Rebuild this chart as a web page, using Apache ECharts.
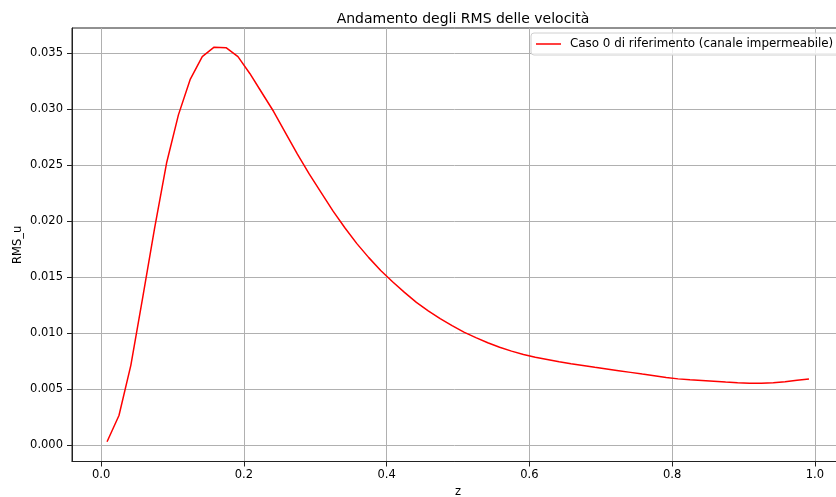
<!DOCTYPE html>
<html>
<head>
<meta charset="utf-8">
<script src="https://cdn.jsdelivr.net/npm/echarts@6/dist/echarts.min.js"></script>
<style>
html,body{margin:0;padding:0;background:#fff;}
#chart{width:836px;height:497px;}
</style>
</head>
<body>
<div id="chart"></div>
<script>
// z positions: 60 cell centres (i+0.5)/60
const zValues = [
  0.0083,0.0250,0.0417,0.0583,0.0750,0.0917,0.1083,0.1250,0.1417,0.1583,
  0.1750,0.1917,0.2083,0.2250,0.2417,0.2583,0.2750,0.2917,0.3083,0.3250,
  0.3417,0.3583,0.3750,0.3917,0.4083,0.4250,0.4417,0.4583,0.4750,0.4917,
  0.5083,0.5250,0.5417,0.5583,0.5750,0.5917,0.6083,0.6250,0.6417,0.6583,
  0.6750,0.6917,0.7083,0.7250,0.7417,0.7583,0.7750,0.7917,0.8083,0.8250,
  0.8417,0.8583,0.8750,0.8917,0.9083,0.9250,0.9417,0.9583,0.9750,0.9917
];
const rmsU = [
  0.00030,0.00265,0.00715,0.01320,0.01940,0.02520,0.02950,0.03270,0.03470,0.03555,
  0.03550,0.03470,0.03320,0.03150,0.02980,0.02790,0.02600,0.02420,0.02255,0.02090,
  0.01940,0.01800,0.01675,0.01560,0.01460,0.01365,0.01275,0.01200,0.01130,0.01068,
  0.01010,0.00960,0.00915,0.00875,0.00840,0.00810,0.00785,0.00765,0.00745,0.00728,
  0.00712,0.00695,0.00680,0.00665,0.00650,0.00635,0.00620,0.00605,0.00592,0.00584,
  0.00577,0.00570,0.00563,0.00557,0.00553,0.00553,0.00558,0.00567,0.00580,0.00590
];
const xTicks = [0.0, 0.2, 0.4, 0.6, 0.8, 1.0];
const yTicks = [0.000, 0.005, 0.010, 0.015, 0.020, 0.025, 0.030, 0.035];
const seriesName = 'Caso 0 di riferimento (canale impermeabile)';
const titleText = 'Andamento degli RMS delle velocità';
const xName = 'z';
const yName = 'RMS_u';

const chart = echarts.init(document.getElementById('chart'), null, {renderer: 'canvas'});
const font = 'DejaVu Sans';
chart.setOption({
  animation: false,
  backgroundColor: '#ffffff',
  title: {
    text: titleText,
    left: 458, top: 7, textAlign: 'center',
    textStyle: {fontFamily: font, fontSize: 14, fontWeight: 'normal', color: '#000'}
  },
  legend: {
    left: 531, top: 33,
    padding: [5, 6, 5, 5],
    itemWidth: 25, itemHeight: 12,
    backgroundColor: 'rgba(255,255,255,0.8)',
    borderColor: '#d0d0d0', borderWidth: 1, borderRadius: 3,
    textStyle: {fontFamily: font, fontSize: 11.9, color: '#000', padding: [0, 0, 0, 4]},
    data: [{name: seriesName, icon: 'path://M0,0 L25,0 L25,1.5 L0,1.5 Z', itemStyle: {color: '#ff0000'}}]
  },
  grid: {
    left: 72, top: 28, width: 772, height: 433.5,
    outerBoundsMode: 'none', containLabel: false,
    show: true, borderColor: '#222', borderWidth: 1, backgroundColor: 'transparent'
  },
  xAxis: {
    type: 'value', min: -0.0408, max: 1.0408,
    name: xName, nameLocation: 'middle', nameGap: 25, nameMoveOverlap: false,
    nameTextStyle: {fontFamily: font, fontSize: 11.5, color: '#000'},
    axisLine: {show: true, onZero: false, lineStyle: {color: '#222', width: 1}},
    axisTick: {show: true, length: 5, customValues: xTicks, lineStyle: {color: '#222'}},
    axisLabel: {fontFamily: font, fontSize: 11.5, color: '#000', margin: 8,
      customValues: xTicks,
      formatter: v => v.toFixed(1)},
    splitLine: {show: true, lineStyle: {color: '#b0b0b0', width: 1}}
  },
  yAxis: {
    type: 'value', min: -0.00146, max: 0.03726,
    name: yName, nameLocation: 'middle', nameGap: 48, nameRotate: 90, nameMoveOverlap: false,
    nameTextStyle: {fontFamily: font, fontSize: 11.5, color: '#000'},
    axisLine: {show: true, onZero: false, lineStyle: {color: '#222', width: 1}},
    axisTick: {show: true, length: 5, customValues: yTicks, lineStyle: {color: '#222'}},
    axisLabel: {fontFamily: font, fontSize: 11.5, color: '#000', margin: 9,
      customValues: yTicks,
      formatter: v => v.toFixed(3)},
    splitLine: {show: true, lineStyle: {color: '#b0b0b0', width: 1}}
  },
  series: [{
    name: seriesName,
    type: 'line',
    data: zValues.map((z, i) => [z, rmsU[i]]),
    symbol: 'none',
    lineStyle: {color: '#ff0000', width: 1.5},
    itemStyle: {color: '#ff0000'}
  }]
});
</script>
</body>
</html>
